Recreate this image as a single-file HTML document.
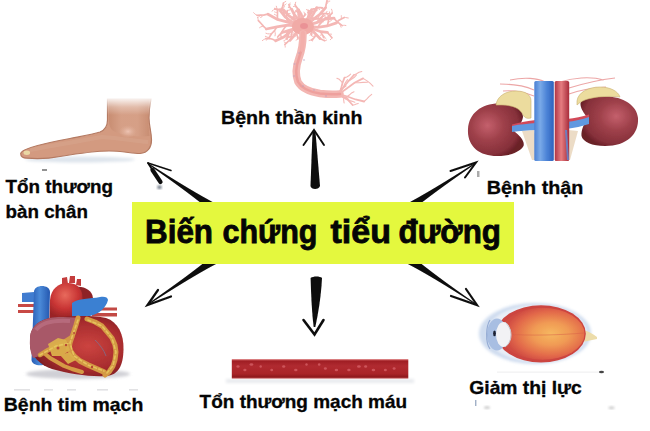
<!DOCTYPE html>
<html><head><meta charset="utf-8">
<style>
html,body{margin:0;padding:0;background:#fff;width:650px;height:431px;overflow:hidden}
svg{display:block}
text{font-family:"Liberation Sans",sans-serif;font-weight:bold;fill:#050505;stroke:#050505;stroke-width:0.3px}
</style></head><body>
<svg width="650" height="431" viewBox="0 0 650 431">
<defs>
  <filter id="b05" x="-20%" y="-20%" width="140%" height="140%"><feGaussianBlur stdDeviation="0.5"/></filter>
  <filter id="b08" x="-20%" y="-20%" width="140%" height="140%"><feGaussianBlur stdDeviation="0.8"/></filter>
  <filter id="b15" x="-30%" y="-30%" width="160%" height="160%"><feGaussianBlur stdDeviation="1.5"/></filter>
  <linearGradient id="legfade" x1="0" y1="0" x2="0" y2="1">
    <stop offset="0" stop-color="#fff" stop-opacity="1"/>
    <stop offset="0.2" stop-color="#fff" stop-opacity="0.85"/>
    <stop offset="0.6" stop-color="#fff" stop-opacity="0.3"/>
    <stop offset="1" stop-color="#fff" stop-opacity="0"/>
  </linearGradient>
  <linearGradient id="skinL" x1="0" y1="0" x2="1" y2="0">
    <stop offset="0" stop-color="#c08468"/>
    <stop offset="0.3" stop-color="#d8a48c"/>
    <stop offset="0.7" stop-color="#d8a48c"/>
    <stop offset="1" stop-color="#c08468"/>
  </linearGradient>
  <linearGradient id="skinF" x1="0" y1="0" x2="0" y2="1">
    <stop offset="0" stop-color="#b97c60"/>
    <stop offset="0.4" stop-color="#d0967a"/>
    <stop offset="1" stop-color="#b47658"/>
  </linearGradient>
  <radialGradient id="ankle" cx="0.5" cy="0.5" r="0.5">
    <stop offset="0" stop-color="#f0c8b8" stop-opacity="0.9"/>
    <stop offset="1" stop-color="#e0b09a" stop-opacity="0"/>
  </radialGradient>
  <radialGradient id="kid" cx="0.35" cy="0.42" r="0.65">
    <stop offset="0" stop-color="#c4606c"/>
    <stop offset="0.45" stop-color="#9e404a"/>
    <stop offset="0.85" stop-color="#86303a"/>
    <stop offset="1" stop-color="#6a2028"/>
  </radialGradient>
  <radialGradient id="kid2" cx="0.62" cy="0.4" r="0.65">
    <stop offset="0" stop-color="#c4606c"/>
    <stop offset="0.45" stop-color="#9e404a"/>
    <stop offset="0.85" stop-color="#86303a"/>
    <stop offset="1" stop-color="#6a2028"/>
  </radialGradient>
  <linearGradient id="vc" x1="0" y1="0" x2="1" y2="0">
    <stop offset="0" stop-color="#4a80d4"/>
    <stop offset="0.3" stop-color="#7aaae8"/>
    <stop offset="0.65" stop-color="#4a82d6"/>
    <stop offset="1" stop-color="#2f62bc"/>
  </linearGradient>
  <linearGradient id="ao" x1="0" y1="0" x2="1" y2="0">
    <stop offset="0" stop-color="#b23444"/>
    <stop offset="0.45" stop-color="#e57c80"/>
    <stop offset="1" stop-color="#a82c3a"/>
  </linearGradient>
  <radialGradient id="eyeg" cx="0.6" cy="0.5" r="0.55">
    <stop offset="0" stop-color="#f6b860"/>
    <stop offset="0.4" stop-color="#f09a54"/>
    <stop offset="0.78" stop-color="#e2684a"/>
    <stop offset="1" stop-color="#d04c42"/>
  </radialGradient>
  <radialGradient id="heartg" cx="0.62" cy="0.5" r="0.6">
    <stop offset="0" stop-color="#cc4440"/>
    <stop offset="0.65" stop-color="#a82c2e"/>
    <stop offset="1" stop-color="#7a1c22"/>
  </radialGradient>
  <linearGradient id="svc" x1="0" y1="0" x2="1" y2="0">
    <stop offset="0" stop-color="#2a5cb4"/>
    <stop offset="0.45" stop-color="#4a8ad8"/>
    <stop offset="1" stop-color="#2658b0"/>
  </linearGradient>
  <radialGradient id="arch" cx="0.45" cy="0.35" r="0.65">
    <stop offset="0" stop-color="#e86a5c"/>
    <stop offset="0.6" stop-color="#c83434"/>
    <stop offset="1" stop-color="#9a2426"/>
  </radialGradient>
  <linearGradient id="vessel" x1="0" y1="0" x2="0" y2="1">
    <stop offset="0" stop-color="#d86a6c"/>
    <stop offset="0.1" stop-color="#a01e24"/>
    <stop offset="0.35" stop-color="#b02a30"/>
    <stop offset="0.75" stop-color="#aa2428"/>
    <stop offset="0.92" stop-color="#8e181c"/>
    <stop offset="1" stop-color="#c85c5e"/>
  </linearGradient>
</defs>

<!-- FOOT -->
<g id="foot">
  <ellipse cx="80" cy="159.5" rx="55" ry="3" fill="#dde4ec" filter="url(#b15)"/>
  <g filter="url(#b05)">
  <path d="M107.5,99 L107.5,120 C107.5,127 105,130 100,132 C92,134.5 80,136.5 70,138.5 C56,141 42,144 31,147.5 C25,149.5 21,151 20.7,153.4 C20.5,156.5 23,158 27,158.2 C36,159 48,158.8 60,156.5 C75,154 95,151 109,151 C122,151 132,153.5 140,153.5 C148,153 151.5,147 151.5,140 C151.5,132 149,126 149,118 C149,110 150,104 151,99 Z" fill="#d39a80" stroke="#b47a62" stroke-width="1.2"/>
  <path d="M109,99 L109,121 C109,128 112,131 118,133 C128,136 140,137 149.5,136 C149,128 148,122 148,116 C148,108 149,103 149.5,99 Z" fill="url(#skinL)" opacity="0.55"/>
  <path d="M30,150 C50,146 80,141 102,137 C120,138 135,141 148,142" stroke="#dcae98" stroke-width="4" fill="none" opacity="0.3"/>
  <ellipse cx="128" cy="131.5" rx="9" ry="6.5" fill="url(#ankle)"/>
  <ellipse cx="26.8" cy="152.7" rx="3.3" ry="2.2" fill="#ead8a4"/>
  </g>
  <rect x="100" y="95" width="56" height="20" fill="url(#legfade)"/>
</g>
<rect x="42" y="169" width="5" height="2" fill="#777" filter="url(#b05)" opacity="0.8"/>

<!-- NEURON -->
<g id="neuron" fill="none" stroke="#f3aeab" stroke-linecap="round" filter="url(#b05)" opacity="0.88">
<path d="M298.7,27.5 L293.1,29.1 L287.6,30.8 L282.1,32.5" stroke-width="2.8"/>
<path d="M293.1,29.1 L292.2,31.0 L291.7,33.1 L291.2,35.2" stroke-width="1.7"/>
<path d="M292.2,31.0 L292.7,31.7 L293.0,32.4 L293.3,33.1" stroke-width="1.0"/>
<path d="M291.7,33.1 L292.0,33.7 L292.5,34.3 L293.0,34.8" stroke-width="1.0"/>
<path d="M291.2,35.2 L291.6,35.9 L292.0,36.7 L292.4,37.4" stroke-width="1.0"/>
<path d="M287.6,30.8 L287.1,32.7 L286.9,34.7 L287.1,36.7" stroke-width="1.7"/>
<path d="M287.1,32.7 L287.0,33.4 L287.1,34.1 L287.1,34.8" stroke-width="1.0"/>
<path d="M286.9,34.7 L287.6,35.3 L288.4,35.6 L289.2,36.0" stroke-width="1.0"/>
<path d="M287.1,36.7 L286.9,37.4 L286.8,38.0 L286.5,38.7" stroke-width="1.0"/>
<path d="M282.1,32.5 L280.6,34.0 L279.0,35.4 L277.7,37.0" stroke-width="1.7"/>
<path d="M280.6,34.0 L280.7,34.8 L280.6,35.5 L280.6,36.3" stroke-width="1.0"/>
<path d="M298.2,26.7 L290.5,31.3 L283.8,37.1 L275.7,40.8" stroke-width="2.8"/>
<path d="M290.5,31.3 L288.9,33.6 L288.1,36.4 L287.0,39.1" stroke-width="1.7"/>
<path d="M288.9,33.6 L288.2,34.2 L287.5,34.8 L286.8,35.4" stroke-width="1.0"/>
<path d="M288.1,36.4 L287.0,36.9 L286.2,37.5 L285.3,38.3" stroke-width="1.0"/>
<path d="M287.0,39.1 L285.9,39.5 L284.9,40.2 L283.8,40.7" stroke-width="1.0"/>
<path d="M275.7,40.8 L272.6,39.2 L269.2,38.4 L265.7,38.6" stroke-width="1.7"/>
<path d="M269.2,38.4 L268.0,37.5 L266.7,36.8 L265.3,36.3" stroke-width="1.0"/>
<path d="M265.7,38.6 L264.6,39.2 L263.4,39.8 L262.4,40.6" stroke-width="1.0"/>
<path d="M298.0,26.2 L287.3,25.1 L276.8,26.8 L266.3,29.0" stroke-width="2.8"/>
<path d="M287.3,25.1 L284.6,27.7 L282.5,30.9 L280.6,34.2" stroke-width="1.7"/>
<path d="M280.6,34.2 L281.1,35.8 L281.7,37.3 L282.5,38.8" stroke-width="1.0"/>
<path d="M276.8,26.8 L274.6,30.6 L271.5,33.7 L269.2,37.4" stroke-width="1.7"/>
<path d="M274.6,30.6 L275.1,32.4 L275.3,34.1 L275.0,35.9" stroke-width="1.0"/>
<path d="M271.5,33.7 L269.6,33.9 L267.7,33.8 L265.9,33.2" stroke-width="1.0"/>
<path d="M269.2,37.4 L268.1,38.1 L267.2,39.1 L266.5,40.2" stroke-width="1.0"/>
<path d="M266.3,29.0 L263.6,26.3 L261.1,23.5 L258.4,20.7" stroke-width="1.7"/>
<path d="M263.6,26.3 L262.2,26.4 L260.8,26.9 L259.6,27.7" stroke-width="1.0"/>
<path d="M258.4,20.7 L258.1,19.6 L257.9,18.4 L257.6,17.3" stroke-width="1.0"/>
<path d="M298.1,25.4 L287.8,22.2 L277.5,19.4 L268.0,14.2" stroke-width="2.8"/>
<path d="M287.8,22.2 L286.7,18.5 L286.6,14.5 L287.3,10.7" stroke-width="1.7"/>
<path d="M286.7,18.5 L287.5,17.5 L288.6,16.8 L289.3,15.8" stroke-width="1.0"/>
<path d="M286.6,14.5 L287.7,14.0 L288.9,13.7 L290.1,13.6" stroke-width="1.0"/>
<path d="M287.3,10.7 L288.8,10.2 L290.4,9.7 L291.8,9.2" stroke-width="1.0"/>
<path d="M277.5,19.4 L277.4,16.1 L277.5,12.8 L277.3,9.5" stroke-width="1.7"/>
<path d="M277.4,16.1 L276.4,15.6 L275.4,14.8 L274.4,14.3" stroke-width="1.0"/>
<path d="M277.5,12.8 L276.5,12.5 L275.5,12.3 L274.6,11.9" stroke-width="1.0"/>
<path d="M277.3,9.5 L276.4,8.9 L275.4,8.4 L274.4,8.3" stroke-width="1.0"/>
<path d="M268.0,14.2 L264.4,14.9 L260.8,15.1 L257.1,15.3" stroke-width="1.7"/>
<path d="M264.4,14.9 L263.1,15.6 L262.0,16.7 L260.6,17.4" stroke-width="1.0"/>
<path d="M260.8,15.1 L259.7,15.8 L258.9,16.7 L258.1,17.5" stroke-width="1.0"/>
<path d="M257.1,15.3 L255.8,14.6 L254.7,13.8 L253.7,12.7" stroke-width="1.0"/>
<path d="M298.7,24.4 L291.5,21.6 L285.2,17.1 L280.4,11.0" stroke-width="2.8"/>
<path d="M285.2,17.1 L284.2,14.1 L283.2,11.1 L281.4,8.5" stroke-width="1.7"/>
<path d="M284.2,14.1 L284.2,12.9 L284.4,11.8 L284.3,10.6" stroke-width="1.0"/>
<path d="M283.2,11.1 L282.0,10.6 L280.9,10.0 L279.9,9.2" stroke-width="1.0"/>
<path d="M280.4,11.0 L282.0,8.6 L282.9,5.8 L283.4,3.0" stroke-width="1.7"/>
<path d="M282.0,8.6 L282.8,7.9 L283.7,7.2 L284.7,6.7" stroke-width="1.0"/>
<path d="M282.9,5.8 L284.1,5.4 L285.2,4.8 L286.1,4.0" stroke-width="1.0"/>
<path d="M283.4,3.0 L284.2,2.4 L285.0,1.9 L285.8,1.4" stroke-width="1.0"/>
<path d="M299.2,24.1 L293.8,19.4 L288.1,15.0 L283.3,9.7" stroke-width="2.8"/>
<path d="M293.8,19.4 L293.9,17.1 L294.0,14.7 L294.7,12.5" stroke-width="1.7"/>
<path d="M293.9,17.1 L294.5,16.4 L295.0,15.7 L295.7,15.2" stroke-width="1.0"/>
<path d="M294.7,12.5 L295.2,11.8 L295.5,11.0 L295.9,10.3" stroke-width="1.0"/>
<path d="M283.3,9.7 L280.4,9.4 L277.5,9.3 L274.7,9.1" stroke-width="1.7"/>
<path d="M280.4,9.4 L279.5,10.1 L278.6,10.8 L277.5,11.1" stroke-width="1.0"/>
<path d="M277.5,9.3 L276.9,8.4 L276.6,7.3 L276.3,6.2" stroke-width="1.0"/>
<path d="M274.7,9.1 L273.7,9.7 L272.9,10.5 L272.0,11.2" stroke-width="1.0"/>
<path d="M300.7,23.3 L297.7,18.6 L294.1,14.3 L291.7,9.3" stroke-width="2.8"/>
<path d="M297.7,18.6 L295.9,18.6 L294.1,18.3 L292.3,18.2" stroke-width="1.7"/>
<path d="M295.9,18.6 L295.3,18.2 L294.7,17.7 L294.3,17.1" stroke-width="1.0"/>
<path d="M294.1,18.3 L293.5,17.7 L293.0,17.2 L292.5,16.6" stroke-width="1.0"/>
<path d="M292.3,18.2 L292.1,18.9 L291.7,19.4 L291.3,20.0" stroke-width="1.0"/>
<path d="M291.7,9.3 L290.4,8.0 L289.4,6.4 L288.9,4.6" stroke-width="1.7"/>
<path d="M290.4,8.0 L289.7,7.7 L289.0,7.5 L288.3,7.4" stroke-width="1.0"/>
<path d="M289.4,6.4 L289.6,5.7 L289.7,5.0 L290.1,4.4" stroke-width="1.0"/>
<path d="M288.9,4.6 L289.3,4.1 L289.8,3.6 L290.1,3.0" stroke-width="1.0"/>
<path d="M302.0,23.1 L299.9,18.9 L298.7,14.5 L298.6,9.9" stroke-width="2.8"/>
<path d="M298.6,9.9 L297.5,8.2 L296.1,6.7 L295.1,4.8" stroke-width="1.7"/>
<path d="M297.5,8.2 L296.8,7.9 L296.2,7.4 L295.6,6.9" stroke-width="1.0"/>
<path d="M296.1,6.7 L295.2,6.6 L294.4,6.5 L293.5,6.5" stroke-width="1.0"/>
<path d="M295.1,4.8 L295.3,4.0 L295.4,3.1 L295.7,2.2" stroke-width="1.0"/>
<path d="M302.8,23.0 L302.4,18.6 L301.2,14.4 L298.9,10.6" stroke-width="2.8"/>
<path d="M302.4,18.6 L303.2,17.0 L304.4,15.7 L305.1,14.0" stroke-width="1.7"/>
<path d="M303.2,17.0 L302.9,16.4 L302.5,15.9 L302.1,15.4" stroke-width="1.0"/>
<path d="M304.4,15.7 L304.9,15.4 L305.5,15.1 L306.0,14.8" stroke-width="1.0"/>
<path d="M305.1,14.0 L304.7,13.4 L304.3,12.8 L304.0,12.1" stroke-width="1.0"/>
<path d="M301.2,14.4 L299.5,13.3 L297.9,12.3 L296.3,11.1" stroke-width="1.7"/>
<path d="M299.5,13.3 L299.4,12.6 L299.2,11.9 L298.9,11.2" stroke-width="1.0"/>
<path d="M297.9,12.3 L297.6,11.5 L297.4,10.7 L297.3,9.9" stroke-width="1.0"/>
<path d="M296.3,11.1 L296.4,10.4 L296.7,9.7 L296.7,9.0" stroke-width="1.0"/>
<path d="M304.7,23.2 L307.1,19.4 L309.4,15.6 L311.7,11.8" stroke-width="2.8"/>
<path d="M309.4,15.6 L308.6,14.0 L308.3,12.2 L308.3,10.4" stroke-width="1.7"/>
<path d="M308.6,14.0 L308.2,13.5 L307.8,12.9 L307.5,12.4" stroke-width="1.0"/>
<path d="M308.3,12.2 L308.8,11.6 L309.2,11.0 L309.6,10.4" stroke-width="1.0"/>
<path d="M308.3,10.4 L307.7,10.0 L306.9,9.9 L306.3,9.5" stroke-width="1.0"/>
<path d="M311.7,11.8 L313.3,11.3 L315.1,11.0 L316.7,10.4" stroke-width="1.7"/>
<path d="M313.3,11.3 L313.8,10.9 L314.4,10.7 L314.9,10.6" stroke-width="1.0"/>
<path d="M315.1,11.0 L315.3,10.5 L315.4,9.9 L315.4,9.3" stroke-width="1.0"/>
<path d="M316.7,10.4 L316.8,9.9 L317.0,9.4 L317.2,8.8" stroke-width="1.0"/>
<path d="M305.4,23.4 L307.8,19.0 L309.1,14.2 L311.5,9.8" stroke-width="2.8"/>
<path d="M307.8,19.0 L309.7,19.0 L311.7,18.6 L313.6,18.2" stroke-width="1.7"/>
<path d="M309.7,19.0 L310.4,18.5 L311.0,18.0 L311.6,17.5" stroke-width="1.0"/>
<path d="M311.7,18.6 L311.9,18.0 L312.3,17.4 L312.6,16.7" stroke-width="1.0"/>
<path d="M313.6,18.2 L314.0,18.7 L314.7,19.1 L315.3,19.4" stroke-width="1.0"/>
<path d="M311.5,9.8 L313.4,8.9 L315.4,8.5 L317.3,7.7" stroke-width="1.7"/>
<path d="M313.4,8.9 L314.0,9.2 L314.6,9.5 L315.0,9.9" stroke-width="1.0"/>
<path d="M306.5,23.9 L310.4,18.8 L313.7,13.4 L316.7,7.7" stroke-width="2.8"/>
<path d="M316.7,7.7 L318.6,7.6 L320.6,7.6 L322.5,7.9" stroke-width="1.7"/>
<path d="M318.6,7.6 L318.8,8.3 L319.0,9.0 L319.4,9.7" stroke-width="1.0"/>
<path d="M320.6,7.6 L321.0,8.1 L321.5,8.4 L322.1,8.7" stroke-width="1.0"/>
<path d="M322.5,7.9 L322.9,8.5 L323.5,8.9 L324.2,9.2" stroke-width="1.0"/>
<path d="M307.4,24.6 L313.6,19.1 L320.2,14.0 L325.6,7.7" stroke-width="2.8"/>
<path d="M313.6,19.1 L316.4,18.8 L319.1,18.6 L321.9,18.9" stroke-width="1.7"/>
<path d="M316.4,18.8 L317.0,19.5 L317.7,20.2 L318.3,21.0" stroke-width="1.0"/>
<path d="M319.1,18.6 L320.1,18.1 L321.3,17.7 L322.4,17.6" stroke-width="1.0"/>
<path d="M321.9,18.9 L322.4,19.9 L322.8,20.9 L323.0,22.0" stroke-width="1.0"/>
<path d="M320.2,14.0 L323.0,13.7 L325.8,13.7 L328.6,13.9" stroke-width="1.7"/>
<path d="M323.0,13.7 L323.4,14.6 L324.1,15.3 L324.8,15.9" stroke-width="1.0"/>
<path d="M325.8,13.7 L326.2,12.9 L326.6,12.0 L327.1,11.3" stroke-width="1.0"/>
<path d="M325.6,7.7 L326.1,4.8 L326.7,2.0 L327.3,-0.9" stroke-width="1.7"/>
<path d="M326.1,4.8 L326.6,4.0 L327.3,3.3 L327.9,2.5" stroke-width="1.0"/>
<path d="M326.7,2.0 L327.7,1.4 L328.7,1.2 L329.8,1.1" stroke-width="1.0"/>
<path d="M327.3,-0.9 L326.6,-1.6 L326.1,-2.4 L325.7,-3.3" stroke-width="1.0"/>
<path d="M307.8,25.2 L316.6,22.7 L324.9,19.1 L334.0,18.1" stroke-width="2.8"/>
<path d="M316.6,22.7 L319.3,19.9 L321.9,16.9 L324.0,13.6" stroke-width="1.7"/>
<path d="M319.3,19.9 L318.7,18.3 L318.5,16.7 L318.7,15.1" stroke-width="1.0"/>
<path d="M321.9,16.9 L323.1,16.7 L324.2,16.2 L325.2,15.6" stroke-width="1.0"/>
<path d="M324.9,19.1 L327.6,17.5 L329.9,15.4 L332.1,13.2" stroke-width="1.7"/>
<path d="M327.6,17.5 L328.5,17.1 L329.5,16.8 L330.5,16.6" stroke-width="1.0"/>
<path d="M329.9,15.4 L329.6,14.2 L329.7,13.1 L329.5,11.9" stroke-width="1.0"/>
<path d="M332.1,13.2 L332.2,11.8 L332.0,10.5 L331.5,9.2" stroke-width="1.0"/>
<path d="M334.0,18.1 L336.3,21.0 L339.3,23.3 L342.3,25.6" stroke-width="1.7"/>
<path d="M339.3,23.3 L339.8,24.7 L340.6,25.8 L341.1,27.2" stroke-width="1.0"/>
<path d="M342.3,25.6 L343.5,25.3 L344.7,25.3 L345.9,25.5" stroke-width="1.0"/>
<path d="M308.0,26.2 L317.6,27.3 L327.3,26.0 L336.5,22.9" stroke-width="2.8"/>
<path d="M317.6,27.3 L320.1,23.8 L323.1,20.7 L325.7,17.3" stroke-width="1.7"/>
<path d="M320.1,23.8 L319.9,22.2 L319.9,20.5 L319.5,18.8" stroke-width="1.0"/>
<path d="M323.1,20.7 L322.3,19.3 L321.2,18.0 L319.9,16.9" stroke-width="1.0"/>
<path d="M325.7,17.3 L327.2,17.6 L328.6,18.2 L330.0,18.5" stroke-width="1.0"/>
<path d="M327.3,26.0 L328.1,22.6 L328.7,19.2 L328.4,15.8" stroke-width="1.7"/>
<path d="M328.1,22.6 L329.3,21.8 L330.6,21.1 L331.6,20.0" stroke-width="1.0"/>
<path d="M328.7,19.2 L329.4,18.2 L329.9,17.0 L330.3,15.8" stroke-width="1.0"/>
<path d="M328.4,15.8 L327.6,14.9 L327.0,14.0 L326.5,13.0" stroke-width="1.0"/>
<path d="M336.5,22.9 L338.6,20.5 L341.3,18.9 L344.3,17.5" stroke-width="1.7"/>
<path d="M341.3,18.9 L341.4,17.8 L341.3,16.8 L341.3,15.7" stroke-width="1.0"/>
<path d="M344.3,17.5 L345.6,17.5 L347.0,17.8 L348.3,18.0" stroke-width="1.0"/>
<path d="M307.8,26.9 L314.2,29.2 L320.6,31.7 L327.4,32.4" stroke-width="2.8"/>
<path d="M320.6,31.7 L321.6,33.6 L322.8,35.4 L323.6,37.5" stroke-width="1.7"/>
<path d="M321.6,33.6 L321.2,34.2 L321.0,34.9 L320.9,35.6" stroke-width="1.0"/>
<path d="M322.8,35.4 L323.5,36.0 L324.2,36.5 L324.9,37.1" stroke-width="1.0"/>
<path d="M323.6,37.5 L324.3,37.8 L325.1,38.1 L325.8,38.2" stroke-width="1.0"/>
<path d="M327.4,32.4 L328.9,34.3 L330.5,36.0 L331.9,37.8" stroke-width="1.7"/>
<path d="M328.9,34.3 L329.7,34.2 L330.6,34.1 L331.5,34.2" stroke-width="1.0"/>
<path d="M331.9,37.8 L331.5,38.5 L331.0,39.2 L330.3,39.7" stroke-width="1.0"/>
<path d="M307.4,27.5 L312.2,30.4 L316.1,34.4 L320.0,38.4" stroke-width="2.8"/>
<path d="M312.2,30.4 L311.8,32.1 L311.7,33.8 L311.5,35.4" stroke-width="1.7"/>
<path d="M311.8,32.1 L311.3,32.5 L310.8,33.0 L310.4,33.6" stroke-width="1.0"/>
<path d="M311.7,33.8 L311.1,34.1 L310.5,34.5 L309.9,35.0" stroke-width="1.0"/>
<path d="M316.1,34.4 L314.9,36.5 L313.5,38.4 L311.6,40.0" stroke-width="1.7"/>
<path d="M314.9,36.5 L314.2,36.4 L313.4,36.3 L312.6,36.4" stroke-width="1.0"/>
<path d="M313.5,38.4 L313.0,39.2 L312.7,40.1 L312.6,41.0" stroke-width="1.0"/>
<path d="M311.6,40.0 L310.8,40.1 L309.9,40.3 L309.0,40.6" stroke-width="1.0"/>
<path d="M320.0,38.4 L321.5,39.3 L323.1,40.0 L324.6,40.6" stroke-width="1.7"/>
<path d="M324.6,40.6 L325.4,40.6 L326.1,40.3 L326.7,40.0" stroke-width="1.0"/>
<path d="M299.2,28.0 L296.5,32.3 L293.5,36.4 L290.0,40.2" stroke-width="2.8"/>
<path d="M296.5,32.3 L296.8,34.5 L297.5,36.6 L298.0,38.8" stroke-width="1.7"/>
<path d="M296.8,34.5 L296.3,35.3 L295.8,36.0 L295.1,36.6" stroke-width="1.0"/>
<path d="M297.5,36.6 L298.3,37.1 L299.1,37.7 L299.9,38.2" stroke-width="1.0"/>
<path d="M298.0,38.8 L297.4,39.3 L296.8,39.7 L296.1,40.1" stroke-width="1.0"/>
<path d="M293.5,36.4 L291.8,36.5 L290.2,36.9 L288.5,37.1" stroke-width="1.7"/>
<path d="M291.8,36.5 L291.4,37.0 L291.1,37.5 L290.8,38.1" stroke-width="1.0"/>
<path d="M290.2,36.9 L289.6,36.7 L289.1,36.3 L288.5,36.0" stroke-width="1.0"/>
<path d="M288.5,37.1 L287.9,37.5 L287.3,38.0 L286.8,38.4" stroke-width="1.0"/>
<path d="M290.0,40.2 L288.1,41.4 L286.6,43.0 L284.9,44.4" stroke-width="1.7"/>
<path d="M286.6,43.0 L285.8,42.8 L285.0,42.5 L284.3,42.0" stroke-width="1.0"/>
<path d="M284.9,44.4 L285.0,45.3 L285.2,46.2 L285.2,47.1" stroke-width="1.0"/>
<path d="M339.0,94.0 L341.1,88.6 L342.5,83.0 L344.5,77.6" stroke-width="1.8"/>
<path d="M341.1,88.6 L342.9,87.8 L344.7,87.1 L346.1,85.8" stroke-width="1.1"/>
<path d="M342.5,83.0 L341.0,81.0 L339.2,79.3 L336.9,78.2" stroke-width="1.1"/>
<path d="M344.5,77.6 L346.8,77.0 L348.8,75.8 L350.6,74.2" stroke-width="1.1"/>
<path d="M339.0,94.0 L343.5,87.3 L348.6,81.0 L353.9,75.0" stroke-width="1.8"/>
<path d="M343.5,87.3 L344.4,84.5 L345.8,82.0 L347.6,79.6" stroke-width="1.1"/>
<path d="M348.6,81.0 L351.5,79.4 L354.3,77.3 L356.5,74.8" stroke-width="1.1"/>
<path d="M353.9,75.0 L356.6,73.8 L359.0,72.3 L361.8,71.5" stroke-width="1.1"/>
<path d="M339.0,94.0 L346.8,88.4 L354.5,82.8 L363.1,78.4" stroke-width="1.8"/>
<path d="M354.5,82.8 L358.8,82.7 L363.1,82.4 L367.4,82.2" stroke-width="1.1"/>
<path d="M363.1,78.4 L366.7,80.6 L370.0,83.1 L373.0,86.1" stroke-width="1.1"/>
<path d="M339.0,94.0 L347.4,96.5 L355.6,99.5 L364.1,101.5" stroke-width="1.8"/>
<path d="M347.4,96.5 L349.6,94.8 L351.6,92.9 L354.0,91.7" stroke-width="1.1"/>
<path d="M364.1,101.5 L366.7,99.2 L369.0,96.6 L371.7,94.3" stroke-width="1.1"/>
<path d="M339.0,94.0 L344.0,97.2 L348.7,100.6 L352.6,105.0" stroke-width="1.8"/>
<path d="M344.0,97.2 L343.6,99.1 L343.8,101.0 L344.1,103.0" stroke-width="1.1"/>
<path d="M348.7,100.6 L350.8,100.9 L352.8,101.6 L354.8,102.3" stroke-width="1.1"/>
<path d="M352.6,105.0 L354.5,104.7 L356.3,104.0 L358.2,103.4" stroke-width="1.1"/>
<path d="M339.0,94.0 L341.2,95.6 L343.6,96.8 L346.3,97.3" stroke-width="1.8"/>
<path d="M341.2,95.6 L341.7,96.5 L342.4,97.3 L343.3,97.9" stroke-width="1.1"/>
<path d="M343.6,96.8 L344.1,97.6 L344.8,98.2 L345.3,99.0" stroke-width="1.1"/>
<path d="M346.3,97.3 L347.2,98.0 L348.0,98.8 L348.8,99.7" stroke-width="1.1"/>
  <ellipse cx="303" cy="26.5" rx="11" ry="8.5" fill="#f0a09c" stroke="none"/>
  <ellipse cx="304" cy="26" rx="4" ry="3" fill="#e88488" stroke="none"/>
  <path d="M303,34 C303,42 302,50 299,58 C296,66 295,74 298,82 C302,89 310,92 320,93.5 C328,94.5 334,94.5 340,94" stroke="#f2aca8" stroke-width="7.5"/>
  <path d="M303,34 C303,42 302,50 299,58 C296,66 295,74 298,82 C302,89 310,92 320,93.5 C328,94.5 334,94.5 340,94" stroke="#ec9490" stroke-width="2.5"/>
  <path d="M303,33 C302.5,40 302.5,46 302,50" stroke="#f2a4a0" stroke-width="4"/>
  <g fill="#b090b8" stroke="none" opacity="0.45">
    <circle cx="294.5" cy="64" r="1.1"/><circle cx="304" cy="60" r="1.1"/><circle cx="294" cy="76" r="1.1"/><circle cx="303" cy="86" r="1.1"/><circle cx="314" cy="90" r="1.1"/><circle cx="299" cy="53" r="1.1"/><circle cx="326" cy="96" r="1.1"/>
  </g>
</g>

<!-- KIDNEY -->
<g id="kidney">
  <g filter="url(#b05)">
  <path d="M534,90 C525,86 512,84 500,84 M534,96 C524,92 512,90 503,91 M569,88 C582,84 598,80 615,78 M569,94 C580,90 592,88 606,87 M545,82 C538,78 524,77 510,80 M560,82 C572,78 590,76 604,80" stroke="#e48080" stroke-width="1.1" fill="none" opacity="0.7"/>
  <path d="M522,131 L532,160 L541,160 L534,130 Z" fill="#ecdcc6"/>
  <path d="M578,131 L570,160 L562,160 L568,130 Z" fill="#ecdcc6"/>
  <path d="M500,103.5 C482,103 469,113 468,129 C467,146 479,156 497,156 C510,156 520,152 523.5,146 C525,141 520,136 514,131 C518,127 522,123 523,117 C523,108 515,103.5 500,103.5 Z" fill="url(#kid)"/>
  <path d="M605,96.5 C622,96 637,105 638,118 C639,134 627,146 605,146 C592,146 583,142 581.5,136 C581,130 584,124 587.5,118 C584,113 580,108 580.5,103 C583,98 592,96.5 605,96.5 Z" fill="url(#kid2)"/>
  <path d="M496,105 C497,96 506,91 516,91 C526,91 531,95 531,101 L531,118 C527,119 524,118 522,113 C518,107 510,104.5 496,105 Z" fill="#ecdc9e" stroke="#c9b070" stroke-width="0.6"/>
  <path d="M577,101 C578,92 589,87 600,87 C610,87 618,91 620,97 C612,96 598,96 588,99 C584,100 580,102 577,105 Z" fill="#ecdc9e" stroke="#c9b070" stroke-width="0.6"/>
  <path d="M512,124.5 C520,122 528,121 536,120 L536,126 C528,127 520,128 512,130 Z" fill="#d24858"/>
  <path d="M567,119 C575,118 582,116.5 589,114.5 L589,120 C582,122 575,124 567,125 Z" fill="#d24858"/>
  <path d="M512,126 C520,124 528,124 536,123 L536,130 C528,130 520,131 512,132 Z" fill="#5e98e0"/>
  <path d="M566,122 C575,121 582,119.5 589,117 L589,124 C582,126 575,128 566,129 Z" fill="#5e98e0"/>
  <rect x="534.3" y="81" width="19.5" height="80" rx="1.5" fill="url(#vc)"/>
  <rect x="554.7" y="81" width="14.5" height="80" rx="1.5" fill="url(#ao)"/>
  <path d="M566,130 L568,160" stroke="#5a8ad8" stroke-width="2" opacity="0.8"/>
  </g>
</g>

<!-- HEART -->
<g id="heart" filter="url(#b05)">
  <ellipse cx="78" cy="374" rx="52" ry="5" fill="#d0d0d6" filter="url(#b15)"/>
  <path d="M18,304 L34,304 L34,307 L18,307 Z M18,310 L34,310 L34,313 L18,313 Z" fill="#c84a44"/>
  <path d="M22,293 L34,292 L34,302 L22,302 Z" fill="#3f7cd0"/>
  <path d="M92,307.5 L117,307.5 L117,310.5 L92,310.5 Z M92,313 L117,313 L117,316.5 L92,316.5 Z" fill="#c24a44"/>
  <path d="M34,292 C34,284 50,284 50,292 L48,360 C48,367 32,367 31.5,360 Z" fill="url(#svc)"/>
  <path d="M62,284 L62,278 L67,277 L68,284 M69,283 L70,276 L75,276 L75,283 M76,285 L77,279 L81,279 L81,286" fill="#c43e3c"/>
  <path d="M76,287 C84,286 92,290 93,298 L80,305 Z" fill="#8e2428"/>
  <path d="M49.5,318 L50,300 C51,289 58,283 68,283 C76,283 80,287 82,293 L84,318 Z" fill="url(#arch)"/>
  <path d="M72,318 L72,303 C78,298 90,299 100,297 C104,296 108,297 108,300 C106,308 99,314 90,316 Z" fill="#3a80d2"/>
  <path d="M30,338 C31,324 42,318 58,317 C75,316 92,315 106,318 C118,322 124,334 123.5,350 C123,365 119,375 106,376 C90,377 70,374 52,369 C40,365 31,356 30,346 Z" fill="url(#heartg)"/>
  <path d="M30,338 C31,324 42,318 58,317 C64,317 72,317 79,318 C78,328 74,336 66,342 C56,350 44,355 33,358 C30,352 29.5,345 30,338 Z" fill="#a85868"/>
  <path d="M36,330 C42,322 55,320 70,321" stroke="#c07888" stroke-width="4" fill="none" opacity="0.6"/>
  <g stroke="#d49a44" fill="none" stroke-linecap="round" stroke-linejoin="round">
    <path d="M78,318 L76,325 L74,331 L72,337 L70,343 L69,349" stroke-width="5"/>
    <path d="M69,349 L74,356 L80,361 L88,365 L96,368.5 L104,372" stroke-width="5.5"/>
    <path d="M72,337 L64,342 L56,346 L48,350 L40,355" stroke-width="4.5"/>
    <path d="M44,353 L50,358 L57,362 L64,366 L72,369 L82,372" stroke-width="4"/>
    <path d="M87,319 L95,322 L102,326 L107,332 L112,338 L115,345 L116,352 L115,360 L113,366 L109,372 L105,375" stroke-width="5"/>
  </g>
  <g fill="#dcb04c" opacity="0.95">
    <path d="M48,344 L58,338 L66,340 L70,350 L62,356 L52,356 Z"/>
    <path d="M60,355 L70,352 L76,360 L68,364 Z"/>
  </g>
  <g stroke="#e8c860" fill="none" stroke-linecap="round" stroke-width="1.6" stroke-dasharray="3 2.5" opacity="0.9">
    <path d="M78,320 L74,331 L70,343 L74,356 L88,365 L104,371"/>
    <path d="M88,320 L102,326 L112,338 L116,352 L113,366 L106,374"/>
    <path d="M40,355 L56,346 L70,343"/>
  </g>
  <g fill="#b03030" opacity="0.8">
    <circle cx="58" cy="348" r="1.5"/><circle cx="66" cy="345" r="1.2"/><circle cx="112" cy="350" r="1.2"/><circle cx="92" cy="367" r="1.2"/><circle cx="74" cy="333" r="1"/>
  </g>
  <path d="M95,340 C100,345 104,350 106,356" stroke="#5a90c0" stroke-width="1" fill="none" opacity="0.5"/>
</g>

<g fill="#e2e2e4" filter="url(#b05)">
  <rect x="14" y="389" width="16" height="1.6"/><rect x="44" y="389" width="9" height="1.6"/><rect x="67" y="389" width="9" height="1.6"/><rect x="97" y="389" width="11" height="1.6"/><rect x="129" y="389" width="9" height="1.6"/>
</g>
<rect x="497" y="371.6" width="103" height="1" fill="#ededee" filter="url(#b05)"/>
<ellipse cx="601.5" cy="372" rx="2.5" ry="1.2" fill="#444" filter="url(#b05)"/>
<ellipse cx="611.5" cy="407.8" rx="3" ry="1.5" fill="#d0d0d0" filter="url(#b08)"/>
<rect x="475.3" y="400" width="1" height="6" fill="#7a90b0" filter="url(#b05)"/>
<ellipse cx="487" cy="407.5" rx="3" ry="1.5" fill="#d0d0d0" filter="url(#b08)"/>
<!-- EYE -->
<g id="eye">
  <ellipse cx="535" cy="333.5" rx="56" ry="30.5" fill="#cfdcef" filter="url(#b15)"/>
  <ellipse cx="537" cy="333.5" rx="50" ry="28.5" fill="#e8eef7" filter="url(#b08)"/>
  <path d="M583,330 C588,331 593,334 597,337 L597,339 C592,340 587,341 583,342 Z" fill="#ecdcaa" filter="url(#b05)"/>
  <g filter="url(#b05)">
  <ellipse cx="541" cy="333.8" rx="44.8" ry="28.6" fill="#cc4440"/>
  <ellipse cx="542.5" cy="333.8" rx="42" ry="26" fill="url(#eyeg)"/>
  <path d="M505,334 C530,336 560,335 584,333" stroke="#d86048" stroke-width="1" fill="none" opacity="0.5"/>
  <ellipse cx="497" cy="334.5" rx="10" ry="16" fill="#a8bee2"/>
  <path d="M490,320 C486,326 485,342 490,349" stroke="#7a96c8" stroke-width="1.2" fill="none" opacity="0.7"/>
  <ellipse cx="503.5" cy="334.5" rx="7.5" ry="12.5" fill="#f2f2f5"/>
  <path d="M505,322 C509,326 511,330 511,335 C511,340 509,344 505,347" stroke="#c8c8d0" stroke-width="1" fill="none"/>
  <ellipse cx="494.5" cy="333.4" rx="1.4" ry="2.8" fill="#1e2233"/>
  </g>
</g>

<!-- VESSEL -->
<g id="vessel">
  <rect x="226" y="379" width="188" height="4" fill="#e8eaee" filter="url(#b15)"/>
  <rect x="231.8" y="359.2" width="176.5" height="19.4" fill="url(#vessel)"/>
  <g fill="#d8646a" opacity="0.75" filter="url(#b05)">
    <ellipse cx="238.0" cy="366.5" rx="1.6" ry="1.2"/><ellipse cx="244.9" cy="370.0" rx="1.6" ry="1.2"/><ellipse cx="251.4" cy="364.5" rx="1.9" ry="1.2"/><ellipse cx="260.7" cy="366.5" rx="1.2" ry="1.2"/><ellipse cx="271.7" cy="370.0" rx="1.4" ry="1.2"/><ellipse cx="283.7" cy="366.5" rx="1.6" ry="1.2"/><ellipse cx="295.8" cy="370.0" rx="1.7" ry="1.2"/><ellipse cx="306.5" cy="364.5" rx="1.2" ry="1.2"/><ellipse cx="319.2" cy="364.5" rx="1.3" ry="1.2"/><ellipse cx="325.4" cy="368.5" rx="1.5" ry="1.2"/><ellipse cx="336.4" cy="370.0" rx="1.7" ry="1.2"/><ellipse cx="348.9" cy="370.0" rx="1.7" ry="1.2"/><ellipse cx="358.9" cy="366.5" rx="1.9" ry="1.2"/><ellipse cx="365.6" cy="366.5" rx="1.5" ry="1.2"/><ellipse cx="373.4" cy="370.0" rx="1.8" ry="1.2"/><ellipse cx="385.4" cy="370.0" rx="1.5" ry="1.2"/><ellipse cx="394.1" cy="368.5" rx="1.5" ry="1.2"/>
  </g>
</g>

<!-- ARROWS -->
<g id="arrows" fill="#0c0c0c" stroke="#0c0c0c" stroke-linecap="round" filter="url(#b05)">
  <!-- up -->
  <path d="M312.5,132 L315.5,132 L320,186 C319,190 311,190 310.5,186 Z" stroke="none"/>
  <path d="M303.5,145 L314,130 L324,145" fill="none" stroke-width="1.9"/>
  <!-- down -->
  <path d="M310.6,278 C313,276 320,276 322,278 C321,298 318,314 315.3,327 L313.7,327 C312,314 311.2,298 310.6,278 Z" stroke="none"/>
  <path d="M303.5,320 L314.5,334.5 L323.5,320" fill="none" stroke-width="2.6"/>
  <!-- top-left -->
  <path d="M148.22,164.42 Q190.95,194.09 212.44,212.32 L217.56,204.68 Q192.50,191.76 148.78,163.58 Z" stroke="none"/>
<path d="M474.72,163.08 Q430.71,191.31 405.62,204.42 L410.38,211.58 Q432.19,193.54 475.28,163.92 Z" stroke="none"/>
<path d="M148.78,304.42 Q192.48,276.20 217.45,263.16 L212.55,255.84 Q190.97,273.95 148.22,303.58 Z" stroke="none"/>
<path d="M475.78,303.58 Q433.05,273.91 411.56,255.68 L406.44,263.32 Q431.50,276.24 475.22,304.42 Z" stroke="none"/>
  <path d="M171,170.5 L148,163" fill="none" stroke-width="1.6"/>
  <path d="M148,163 L152.5,170" stroke-width="1.8"/>
  <path d="M152.5,170 L160.5,182" stroke-width="4.2"/>
  <!-- top-right -->
  
  <path d="M450.5,171 L476,162.5 L465,177.5" fill="none" stroke-width="2"/>
  <!-- bottom-left -->
  
  <path d="M158,290 L147.5,305 L171,296.5" fill="none" stroke-width="2.2"/>
  <!-- bottom-right -->
  
  <path d="M466,289 L477,305 L451,296" fill="none" stroke-width="2.2"/>
</g>
<rect x="157.5" y="185.5" width="4" height="3.5" fill="#556070" filter="url(#b08)" opacity="0.8"/>
<rect x="477" y="171" width="2.5" height="6" fill="#888" filter="url(#b05)" opacity="0.7"/>

<!-- TITLE BOX -->
<rect x="132" y="202" width="382" height="62" fill="#e4f83e"/>
<text x="145" y="242.6" font-size="32.5" textLength="68" lengthAdjust="spacingAndGlyphs" style="stroke-width:0.8px">Biến</text>
<text x="222.5" y="242.6" font-size="32.5" textLength="95" lengthAdjust="spacingAndGlyphs" style="stroke-width:0.8px">chứng</text>
<text x="330.5" y="242.6" font-size="32.5" textLength="60.5" lengthAdjust="spacingAndGlyphs" style="stroke-width:0.8px">tiểu</text>
<text x="398.5" y="242.6" font-size="32.5" textLength="102.5" lengthAdjust="spacingAndGlyphs" style="stroke-width:0.8px">đường</text>

<!-- LABELS -->
<text x="221" y="123.5" font-size="18.6" textLength="141.5" lengthAdjust="spacingAndGlyphs">Bệnh thần kinh</text>
<text x="5.5" y="192.5" font-size="18" textLength="107.5" lengthAdjust="spacingAndGlyphs">Tổn thương</text>
<text x="5.5" y="218.4" font-size="18" textLength="82.5" lengthAdjust="spacingAndGlyphs">bàn chân</text>
<text x="486.8" y="193.6" font-size="18" textLength="96.5" lengthAdjust="spacingAndGlyphs">Bệnh thận</text>
<text x="3.8" y="411" font-size="19" textLength="139.5" lengthAdjust="spacingAndGlyphs">Bệnh tim mạch</text>
<text x="199.6" y="408.3" font-size="19" textLength="207.5" lengthAdjust="spacingAndGlyphs">Tổn thương mạch máu</text>
<text x="469.3" y="394" font-size="17.8" textLength="112.5" lengthAdjust="spacingAndGlyphs">Giảm thị lực</text>
</svg>
</body></html>
